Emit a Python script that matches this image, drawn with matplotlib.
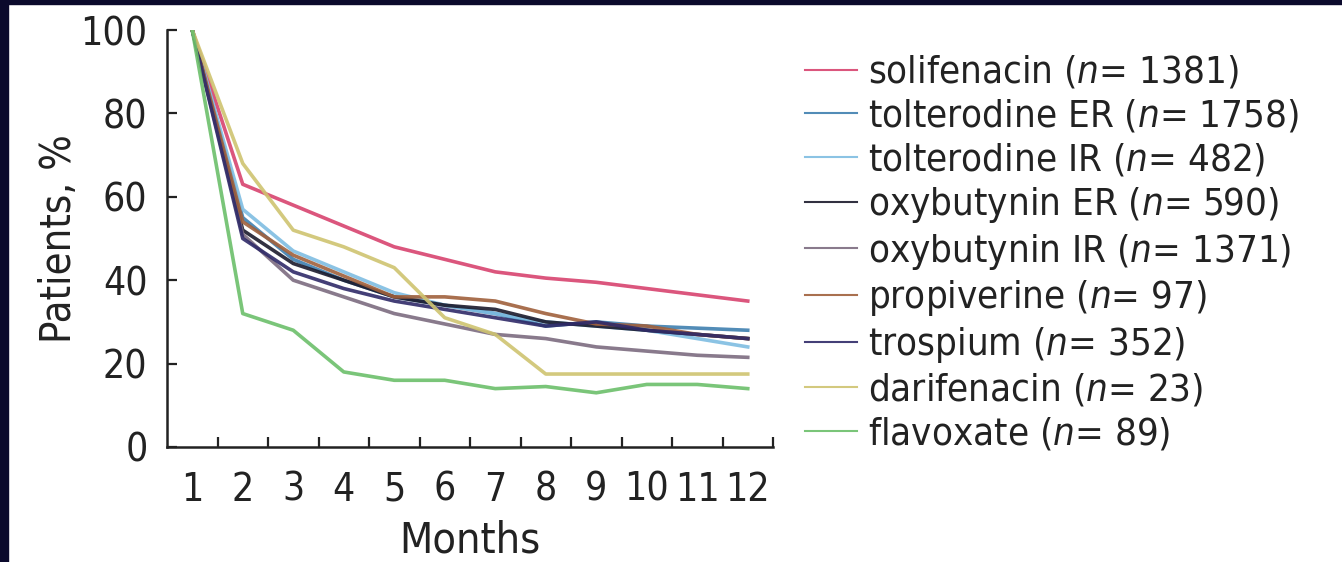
import matplotlib
matplotlib.use("Agg")
import matplotlib.pyplot as plt
from matplotlib.patches import Rectangle

# condensed sans for all text, italic n via mathtext
plt.rcParams['font.family'] = ['DejaVu Sans']
plt.rcParams['font.stretch'] = 'condensed'
plt.rcParams['mathtext.fontset'] = 'custom'
plt.rcParams['mathtext.rm'] = 'DejaVu Sans'
plt.rcParams['mathtext.it'] = 'DejaVu Sans:italic'

months = list(range(1, 13))

drugs = ["solifenacin", "tolterodine ER", "tolterodine IR", "oxybutynin ER",
         "oxybutynin IR", "propiverine", "trospium", "darifenacin", "flavoxate"]
n_patients = [1381, 1758, 482, 590, 1371, 97, 352, 23, 89]

solifenacin = [100, 63, 58, 53, 48, 45, 42, 40.5, 39.5, 38, 36.5, 35]
tolterodine_er = [100, 55, 45, 40, 36, 34, 32, 29, 30, 29, 28.5, 28]
tolterodine_ir = [100, 57, 47, 42, 37, 34, 32, 30, 29, 28, 26, 24]
oxybutynin_er = [100, 52, 44, 40, 36, 34, 33, 30, 29, 28, 27, 26]
oxybutynin_ir = [100, 51, 40, 36, 32, 29.5, 27, 26, 24, 23, 22, 21.5]
propiverine = [100, 54, 46, 41, 36, 36, 35, 32, 29.5, 29, 27, 26]
trospium = [100, 50, 42, 38, 35, 33, 31, 29, 30, 28, 27, 26]
darifenacin = [100, 68, 52, 48, 43, 31, 27, 17.5, 17.5, 17.5, 17.5, 17.5]
flavoxate = [100, 32, 28, 18, 16, 16, 14, 14.5, 13, 15, 15, 14]

series = [solifenacin, tolterodine_er, tolterodine_ir, oxybutynin_er,
          oxybutynin_ir, propiverine, trospium, darifenacin, flavoxate]
colors = ['#d8436f', '#3f80b0', '#7fbde2', '#1b1a2c', '#7c6c80',
          '#a0603c', '#2f2a68', '#cfc470', '#6cbf6a']

W, H = 1342, 562
fig = plt.figure(figsize=(W / 100, H / 100), dpi=100)

# dark frame on the top and left edges
fig.patches.append(Rectangle((0, 1 - 4 / H), 1, 4 / H, transform=fig.transFigure,
                             color='#0b0a2c', zorder=0))
fig.patches.append(Rectangle((0, 0), 8 / W, 1, transform=fig.transFigure,
                             color='#0b0a2c', zorder=0))

ax = fig.add_axes([167 / W, (H - 447) / H, (773 - 167) / W, (447 - 30) / H])

for vals, col, name, n in zip(series, colors, drugs, n_patients):
    ax.plot(months, vals, color=col, lw=2.6, alpha=0.9,
            label=name + r" ($\mathit{n}$= " + str(n) + ")")

ax.set_xlim(0.5, 12.5)
ax.set_ylim(0, 100)
ax.spines['top'].set_visible(False)
ax.spines['right'].set_visible(False)
for s in ['left', 'bottom']:
    ax.spines[s].set_linewidth(1.8)
    ax.spines[s].set_color('#222222')

ax.set_xticks(months)
ax.set_xticks([m + 0.5 for m in months], minor=True)
ax.tick_params(axis='x', which='major', length=0, pad=17, labelsize=28, labelcolor='#222222')
ax.tick_params(axis='x', which='minor', direction='in', length=7, width=1.6, color='#222222')
ax.set_yticks(range(0, 101, 20))
ax.tick_params(axis='y', direction='in', length=7, width=1.6, pad=14,
               labelsize=28, labelcolor='#222222', color='#222222')

ax.set_xlabel("Months", fontsize=31, color='#222222', labelpad=8)
ax.set_ylabel("Patients, %", fontsize=30, color='#222222', labelpad=0)

fig.legend(loc='upper left', bbox_to_anchor=(805 / W, 1 - 54 / H),
           frameon=False, fontsize=27.5, handlelength=1.35, handletextpad=0.3,
           labelspacing=0.175, borderpad=0, borderaxespad=0, labelcolor='#222222')
for line in fig.legends[0].get_lines():
    line.set_linewidth(1.5)

fig.savefig("out.png", dpi=100, facecolor='white')
